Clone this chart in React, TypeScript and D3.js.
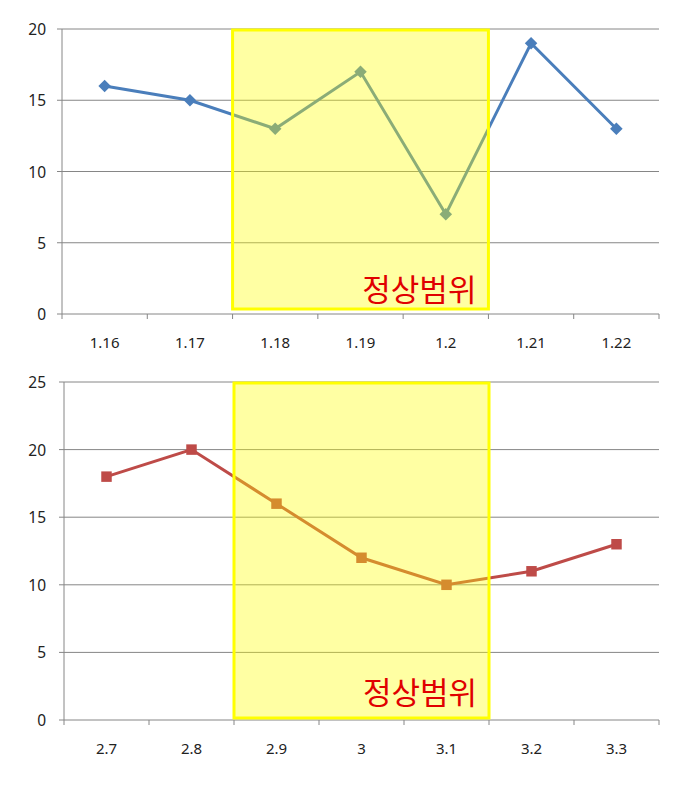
import React from "react";
import * as d3 from "d3";

const topCategories = ["1.16", "1.17", "1.18", "1.19", "1.2", "1.21", "1.22"];
const topValues = [16, 15, 13, 17, 7, 19, 13];
const topTicks = [0, 5, 10, 15, 20];

const bottomCategories = ["2.7", "2.8", "2.9", "3", "3.1", "3.2", "3.3"];
const bottomValues = [18, 20, 16, 12, 10, 11, 13];
const bottomTicks = [0, 5, 10, 15, 20, 25];

const rangeLabel = "정상범위";
const rangeStart = 2; // first category inside the normal range
const rangeEnd = 4; // last category inside the normal range

type ChartProps = {
  categories: string[];
  values: number[];
  ticks: number[];
  x0: number;
  x1: number;
  yTop: number;
  yBottom: number;
  color: string;
  marker: "diamond" | "square";
  boxBottomGap: number;
  labelY: number;
};

function Chart(p: ChartProps) {
  const maxV = p.ticks[p.ticks.length - 1];
  const x = d3.scaleBand<string>().domain(p.categories).range([p.x0, p.x1]);
  const y = d3.scaleLinear().domain([0, maxV]).range([p.yBottom, p.yTop]);
  const cx = (i: number) => (x(p.categories[i]) as number) + x.bandwidth() / 2;
  const line = d3
    .line<number>()
    .x((_, i) => cx(i))
    .y((d) => y(d));
  const sym = d3
    .symbol()
    .type(p.marker === "diamond" ? d3.symbolDiamond2 : d3.symbolSquare2)
    .size(p.marker === "diamond" ? 100 : 140);
  const boxX0 = x(p.categories[rangeStart]) as number;
  const boxX1 = (x(p.categories[rangeEnd]) as number) + x.bandwidth();
  const boxY0 = y(maxV) + 1;
  const boxY1 = y(0) - p.boxBottomGap;
  const gridColor = "#868686";
  const boundaries = d3.range(p.categories.length + 1).map((i) => p.x0 + i * x.bandwidth());
  return (
    <g>
      {p.ticks.map((t) => (
        <g key={t}>
          {t > 0 && (
            <line x1={p.x0} x2={p.x1} y1={y(t)} y2={y(t)} stroke={gridColor} strokeWidth={1} />
          )}
          <line x1={p.x0 - 5} x2={p.x0} y1={y(t)} y2={y(t)} stroke={gridColor} strokeWidth={1} />
          <text
            x={46}
            y={y(t)}
            textAnchor="end"
            dominantBaseline="central"
            fontSize={15.5}
            fill="#222"
            fontFamily="'Noto Sans', 'DejaVu Sans', sans-serif"
          >
            {t}
          </text>
        </g>
      ))}
      <line x1={p.x0} x2={p.x0} y1={p.yTop} y2={p.yBottom} stroke={gridColor} strokeWidth={1} />
      <line x1={p.x0} x2={p.x1} y1={p.yBottom} y2={p.yBottom} stroke={gridColor} strokeWidth={1} />
      {boundaries.map((bx, i) => (
        <line key={i} x1={bx} x2={bx} y1={p.yBottom} y2={p.yBottom + 5} stroke={gridColor} strokeWidth={1} />
      ))}
      {p.categories.map((c, i) => (
        <text
          key={c}
          x={cx(i)}
          y={p.yBottom + 28}
          textAnchor="middle"
          dominantBaseline="central"
          fontSize={15}
          fill="#222"
          fontFamily="'Noto Sans', 'DejaVu Sans', sans-serif"
        >
          {c}
        </text>
      ))}
      <path d={line(p.values) || ""} fill="none" stroke={p.color} strokeWidth={3} />
      {p.values.map((v, i) => (
        <path key={i} d={sym() || ""} transform={`translate(${cx(i)},${y(v)})`} fill={p.color} />
      ))}
      <rect
        x={boxX0}
        y={boxY0}
        width={boxX1 - boxX0}
        height={boxY1 - boxY0}
        fill="#FFFF00"
        fillOpacity={0.36}
        stroke="#FFFF00"
        strokeWidth={3}
      />
      <text
        x={boxX1 - 12}
        y={p.labelY}
        textAnchor="end"
        fontSize={31}
        fill="#E00000"
        fontFamily="'Noto Sans CJK KR', sans-serif"
      >
        {rangeLabel}
      </text>
    </g>
  );
}

export default function App() {
  return (
    <svg
      width={676}
      height={786}
      style={{ position: "absolute", left: 0, top: 0, background: "#fff" }}
    >
      <rect width={676} height={786} fill="#fff" />
      <Chart
        categories={topCategories}
        values={topValues}
        ticks={topTicks}
        x0={62}
        x1={659}
        yTop={29}
        yBottom={314}
        color="#4A7EBB"
        marker="diamond"
        boxBottomGap={5}
        labelY={301}
      />
      <Chart
        categories={bottomCategories}
        values={bottomValues}
        ticks={bottomTicks}
        x0={64}
        x1={659}
        yTop={382}
        yBottom={720}
        color="#BE4B48"
        marker="square"
        boxBottomGap={2}
        labelY={704}
      />
    </svg>
  );
}
